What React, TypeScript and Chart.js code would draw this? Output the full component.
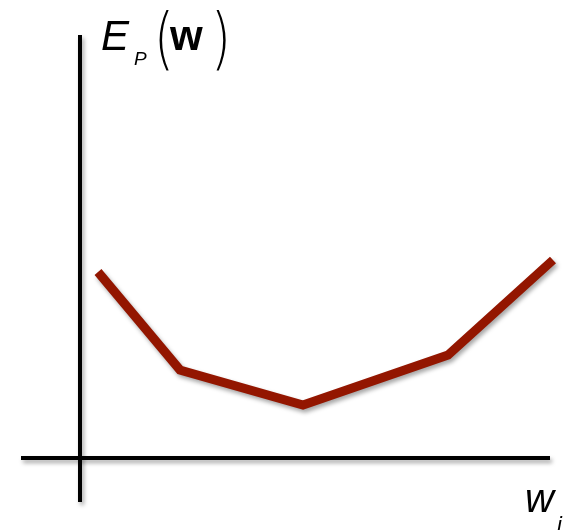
import React, { useEffect, useRef } from "react";
import { Chart, registerables } from "chart.js";

Chart.register(...registerables);

// weight w_i (abstract units) and error E_P(w)
const weights = [0.18, 1.0, 2.23, 3.68, 4.73];
const errors = [1.86, 0.88, 0.53, 1.03, 1.98];

// axis extents
const xAxisRange = [-0.59, 4.7];
const yAxisRange = [-0.44, 4.23];

const X_MIN = -0.8;
const X_MAX = 4.93;
const Y_MIN = -0.72;
const Y_MAX = 4.58;

const shadowPlugin = {
  id: "shadow",
  beforeDatasetDraw(chart: any) {
    const ctx = chart.ctx;
    ctx.save();
    ctx.shadowColor = "rgba(0,0,0,0.35)";
    ctx.shadowBlur = 4;
    ctx.shadowOffsetX = 2;
    ctx.shadowOffsetY = 3;
  },
  afterDatasetDraw(chart: any) {
    chart.ctx.restore();
  },
};

const labelPlugin = {
  id: "labels",
  afterDraw(chart: any) {
    const ctx = chart.ctx;
    ctx.save();
    ctx.fillStyle = "#000";
    ctx.textBaseline = "alphabetic";
    ctx.textAlign = "left";
    ctx.font = "italic 42px 'Liberation Sans', Arial, sans-serif";
    ctx.fillText("E", 101, 50);
    ctx.font = "italic 19px 'Liberation Sans', Arial, sans-serif";
    ctx.fillText("P", 134, 65);
    ctx.font = "300 68px 'DejaVu Sans', sans-serif";
    ctx.save();
    ctx.scale(0.75, 1);
    ctx.fillText("(", 154 / 0.75, 62);
    ctx.fillText(")", 211 / 0.75, 62);
    ctx.restore();
    ctx.font = "bold 42px 'Liberation Sans', Arial, sans-serif";
    ctx.fillText("w", 170, 50);
    ctx.font = "italic 40px 'Liberation Sans', Arial, sans-serif";
    ctx.fillText("w", 525, 512);
    ctx.font = "italic 22px 'Liberation Sans', Arial, sans-serif";
    ctx.fillText("i", 557, 532);
    ctx.restore();
  },
};

export default function App() {
  const ref = useRef<HTMLCanvasElement>(null);
  useEffect(() => {
    if (!ref.current) return;
    const chart = new Chart(ref.current, {
      type: "scatter",
      data: {
        datasets: [
          {
            data: [
              { x: xAxisRange[0], y: 0 },
              { x: xAxisRange[1], y: 0 },
            ],
            showLine: true,
            borderColor: "#000",
            borderWidth: 4,
            pointRadius: 0,
            borderCapStyle: "butt",
          },
          {
            data: [
              { x: 0, y: yAxisRange[0] },
              { x: 0, y: yAxisRange[1] },
            ],
            showLine: true,
            borderColor: "#000",
            borderWidth: 4,
            pointRadius: 0,
            borderCapStyle: "butt",
          },
          {
            data: weights.map((w, i) => ({ x: w, y: errors[i] })),
            showLine: true,
            borderColor: "#931600",
            borderWidth: 9,
            pointRadius: 0,
            borderJoinStyle: "miter",
            borderCapStyle: "butt",
          },
        ],
      },
      options: {
        animation: false,
        responsive: false,
        layout: { padding: 0 },
        plugins: { legend: { display: false }, tooltip: { enabled: false } },
        scales: {
          x: { type: "linear", min: X_MIN, max: X_MAX, display: false },
          y: { type: "linear", min: Y_MIN, max: Y_MAX, display: false },
        },
      },
      plugins: [shadowPlugin, labelPlugin],
    } as any);
    return () => chart.destroy();
  }, []);
  return (
    <div style={{ position: "fixed", left: 0, top: 0, width: 573, height: 530, background: "#fff" }}>
      <canvas ref={ref} width={573} height={530} style={{ display: "block" }} />
    </div>
  );
}
